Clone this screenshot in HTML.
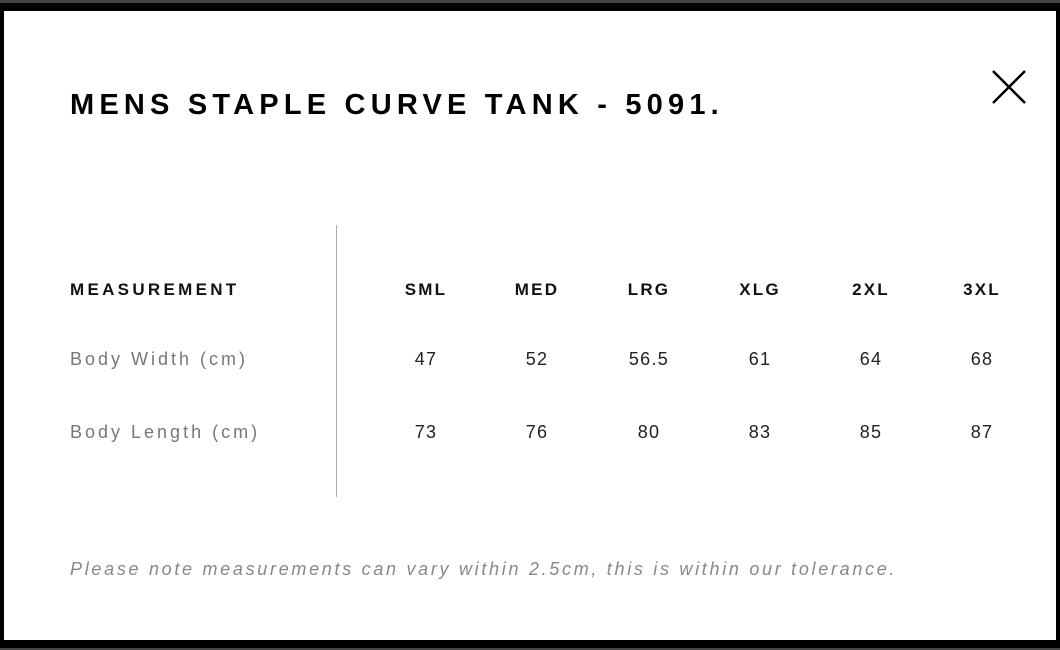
<!DOCTYPE html>
<html><head><style>
body{margin:0;width:1060px;height:650px;background:#444;position:relative;overflow:hidden;font-family:"Liberation Sans",Arial,sans-serif}
#frame{position:absolute;left:0;top:3px;width:1060px;height:645px;background:#000}
#panel{position:absolute;left:4px;top:11px;width:1052px;height:629px;background:#fff}
.t{position:absolute;white-space:nowrap}
.c{position:absolute;width:100px;text-align:center;transform:translateX(-50%)}
.h{font-weight:bold;font-size:17px;letter-spacing:2.2px;color:#111}
.v{font-size:18px;letter-spacing:1.3px;color:#222}
.l{font-size:18px;letter-spacing:3px;color:#777}
</style></head><body>
<div id="frame"></div><div id="panel"></div>
<div class="t" style="left:70px;top:89px;font-size:29px;font-weight:bold;letter-spacing:5.2px;color:#000">MENS STAPLE CURVE TANK - 5091.</div>
<svg style="position:absolute;left:990px;top:68px" width="38" height="38"><path d="M3 3L35 35M35 3L3 35" stroke="#000" stroke-width="2.5"/></svg>
<div style="position:absolute;left:336px;top:225px;width:1px;height:272px;background:#aaa"></div>
<div class="t h" style="left:70px;top:280px;letter-spacing:3.3px">MEASUREMENT</div>
<div class="t l" style="left:70px;top:349px">Body Width (cm)</div>
<div class="t l" style="left:70px;top:422px">Body Length (cm)</div>
<div class="c h" style="left:426px;top:280px">SML</div>
<div class="c h" style="left:537px;top:280px">MED</div>
<div class="c h" style="left:649px;top:280px">LRG</div>
<div class="c h" style="left:760px;top:280px">XLG</div>
<div class="c h" style="left:871px;top:280px">2XL</div>
<div class="c h" style="left:982px;top:280px">3XL</div>
<div class="c v" style="left:426px;top:349px">47</div>
<div class="c v" style="left:537px;top:349px">52</div>
<div class="c v" style="left:649px;top:349px">56.5</div>
<div class="c v" style="left:760px;top:349px">61</div>
<div class="c v" style="left:871px;top:349px">64</div>
<div class="c v" style="left:982px;top:349px">68</div>
<div class="c v" style="left:426px;top:422px">73</div>
<div class="c v" style="left:537px;top:422px">76</div>
<div class="c v" style="left:649px;top:422px">80</div>
<div class="c v" style="left:760px;top:422px">83</div>
<div class="c v" style="left:871px;top:422px">85</div>
<div class="c v" style="left:982px;top:422px">87</div>
<div class="t" style="left:70px;top:559px;font-size:18px;font-style:italic;letter-spacing:2.7px;color:#888">Please note measurements can vary within 2.5cm, this is within our tolerance.</div>
</body></html>
